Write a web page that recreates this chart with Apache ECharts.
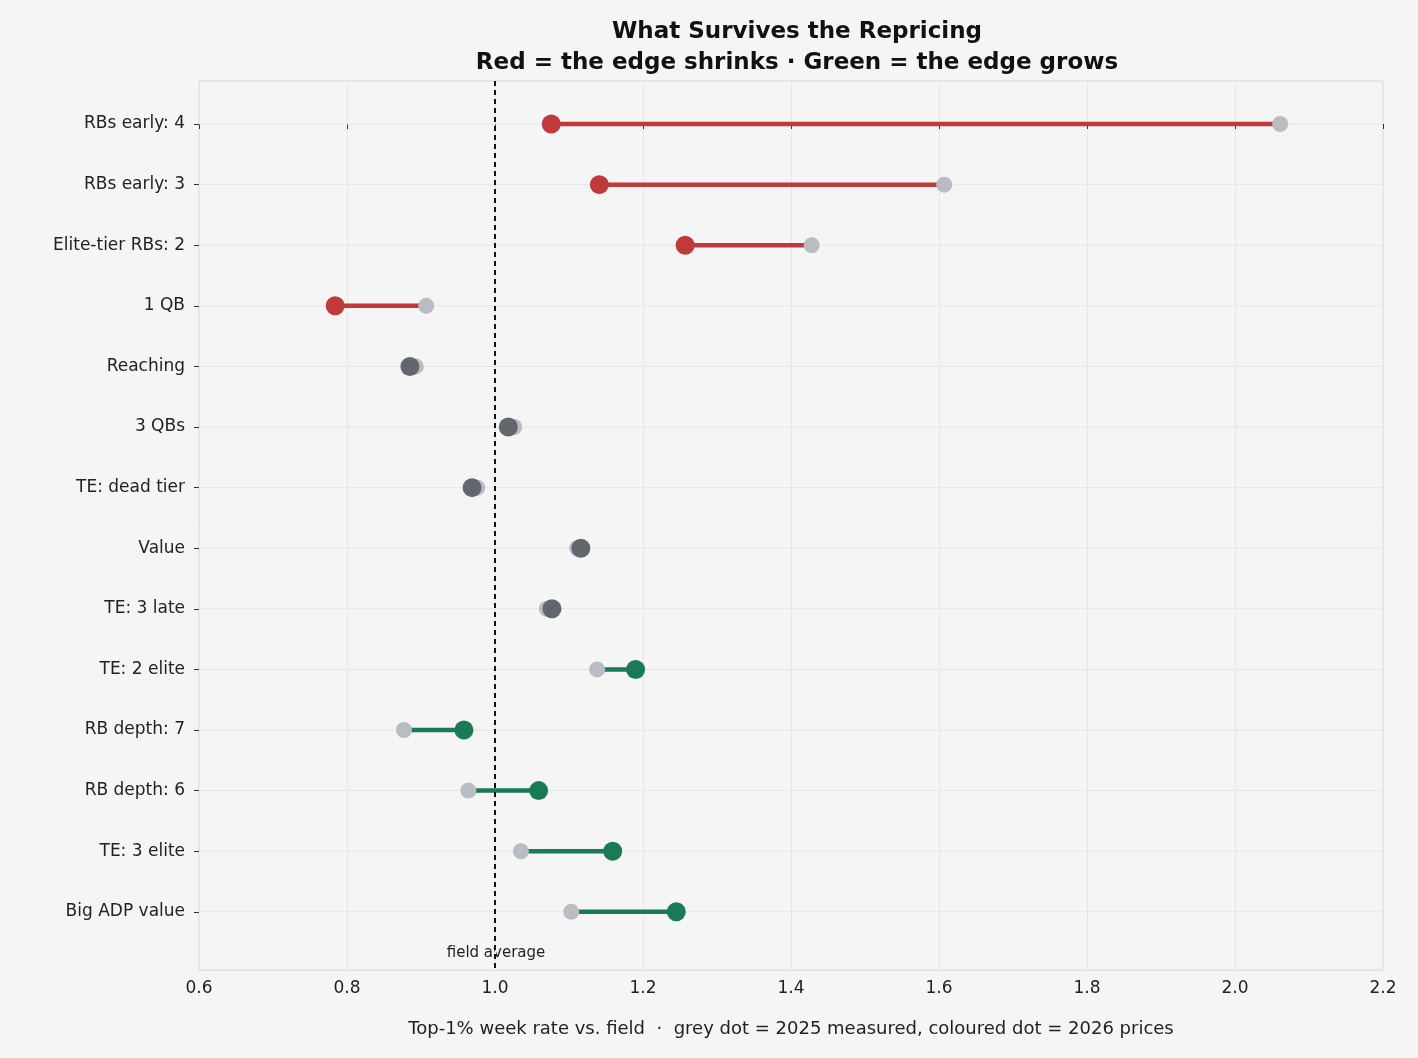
<!DOCTYPE html>
<html>
<head>
<meta charset="utf-8">
<script src="https://cdn.jsdelivr.net/npm/echarts@6/dist/echarts.min.js"></script>
<style>
  html, body {margin: 0; padding: 0; background: #f5f5f5;}
  #chart {width: 1418px; height: 1058px;}
</style>
</head>
<body>
<div id="chart"></div>
<script>
const categories = [
  "RBs early: 4", "RBs early: 3", "Elite-tier RBs: 2", "1 QB", "Reaching", "3 QBs",
  "TE: dead tier", "Value", "TE: 3 late", "TE: 2 elite", "RB depth: 7", "RB depth: 6",
  "TE: 3 elite", "Big ADP value",
];
// 2025 measured (grey dot)
const measured2025 = [2.061, 1.607, 1.428, 0.907, 0.893, 1.026, 0.976, 1.111, 1.070, 1.138, 0.877, 0.964, 1.035, 1.103];
// 2026 prices (coloured dot)
const prices2026 = [1.076, 1.141, 1.257, 0.784, 0.885, 1.018, 0.969, 1.116, 1.077, 1.190, 0.958, 1.059, 1.159, 1.245];
// direction: -1 shrinks, 0 neutral, 1 grows
const direction = [-1, -1, -1, -1, 0, 0, 0, 0, 0, 1, 1, 1, 1, 1];

const RED = "#c0393b";
const GREEN = "#1a7a55";
const DARK = "#62666d";
const LIGHT = "#b9bdc3";

const colorOf = (d) => (d < 0 ? RED : d > 0 ? GREEN : DARK);

const segData = categories.map((c, i) => [measured2025[i], prices2026[i], i, direction[i]]);
const rowIdx = categories.map((c, i) => i);

const chart = echarts.init(document.getElementById("chart"));

chart.setOption({
  backgroundColor: "#f5f5f5",
  textStyle: {fontFamily: "DejaVu Sans"},
  title: {
    text: "What Survives the Repricing\nRed = the edge shrinks · Green = the edge grows",
    left: 792,
    textAlign: "center",
    top: 12,
    textStyle: {fontSize: 23, fontWeight: "bold", color: "#111", lineHeight: 31},
  },
  grid: {left: 199, right: 35, top: 81, bottom: 88, show: true, borderColor: "#d8d8d8", borderWidth: 1},
  xAxis: {
    type: "value",
    min: 0.6,
    max: 2.2,
    interval: 0.2,
    name: "Top-1% week rate vs. field  ·  grey dot = 2025 measured, coloured dot = 2026 prices",
    nameLocation: "middle",
    nameGap: 50,
    nameTextStyle: {fontSize: 18, color: "#222"},
    axisLabel: {fontSize: 17, color: "#222", formatter: (v) => v.toFixed(1), margin: 10},
    axisLine: {show: false},
    axisTick: {show: true, length: 5, lineStyle: {color: "#333"}},
    splitLine: {lineStyle: {color: "#e6e6e6"}},
  },
  yAxis: {
    type: "value",
    inverse: true,
    min: -0.71,
    max: 13.96,
    axisLine: {show: false},
    axisLabel: {
      fontSize: 17,
      color: "#222",
      margin: 14,
      customValues: rowIdx,
      formatter: (v) => categories[Math.round(v)] || "",
    },
    axisTick: {show: true, length: 5, customValues: rowIdx, lineStyle: {color: "#333"}},
    splitLine: {show: false},
  },
  series: [
    {
      type: "custom",
      renderItem: (params, api) => {
        const i = api.value(2);
        const a = api.coord([0.6, i]);
        const b = api.coord([2.2, i]);
        return {type: "line", shape: {x1: a[0], y1: a[1], x2: b[0], y2: b[1]}, style: {stroke: "#e6e6e6", lineWidth: 1}};
      },
      data: segData,
      silent: true,
      z: 1,
      markLine: {
        symbol: "none",
        silent: true,
        label: {show: false},
        lineStyle: {type: [5, 4], color: "#111", width: 2},
        data: [{xAxis: 1.0}],
      },
    },
    {
      type: "custom",
      renderItem: (params, api) => {
        const d = api.value(3);
        if (d === 0) {return null;}
        const a = api.coord([api.value(0), api.value(2)]);
        const b = api.coord([api.value(1), api.value(2)]);
        return {
          type: "line",
          shape: {x1: a[0], y1: a[1], x2: b[0], y2: b[1]},
          style: {stroke: colorOf(d), lineWidth: 4.5},
        };
      },
      data: segData,
      z: 2,
    },
    {
      type: "scatter",
      symbolSize: 16,
      itemStyle: {color: LIGHT, opacity: 1},
      data: measured2025.map((v, i) => [v, i]),
      z: 3,
    },
    {
      type: "scatter",
      symbolSize: 19,
      data: prices2026.map((v, i) => ({value: [v, i], itemStyle: {color: colorOf(direction[i]), opacity: 1}})),
      z: 4,
    },
  ],
  graphic: [
    {
      type: "text",
      x: 496,
      y: 953,
      style: {text: "field average", fontSize: 15, fill: "#222", align: "center", verticalAlign: "middle", fontFamily: "DejaVu Sans"},
    },
  ],
});
</script>
</body>
</html>
